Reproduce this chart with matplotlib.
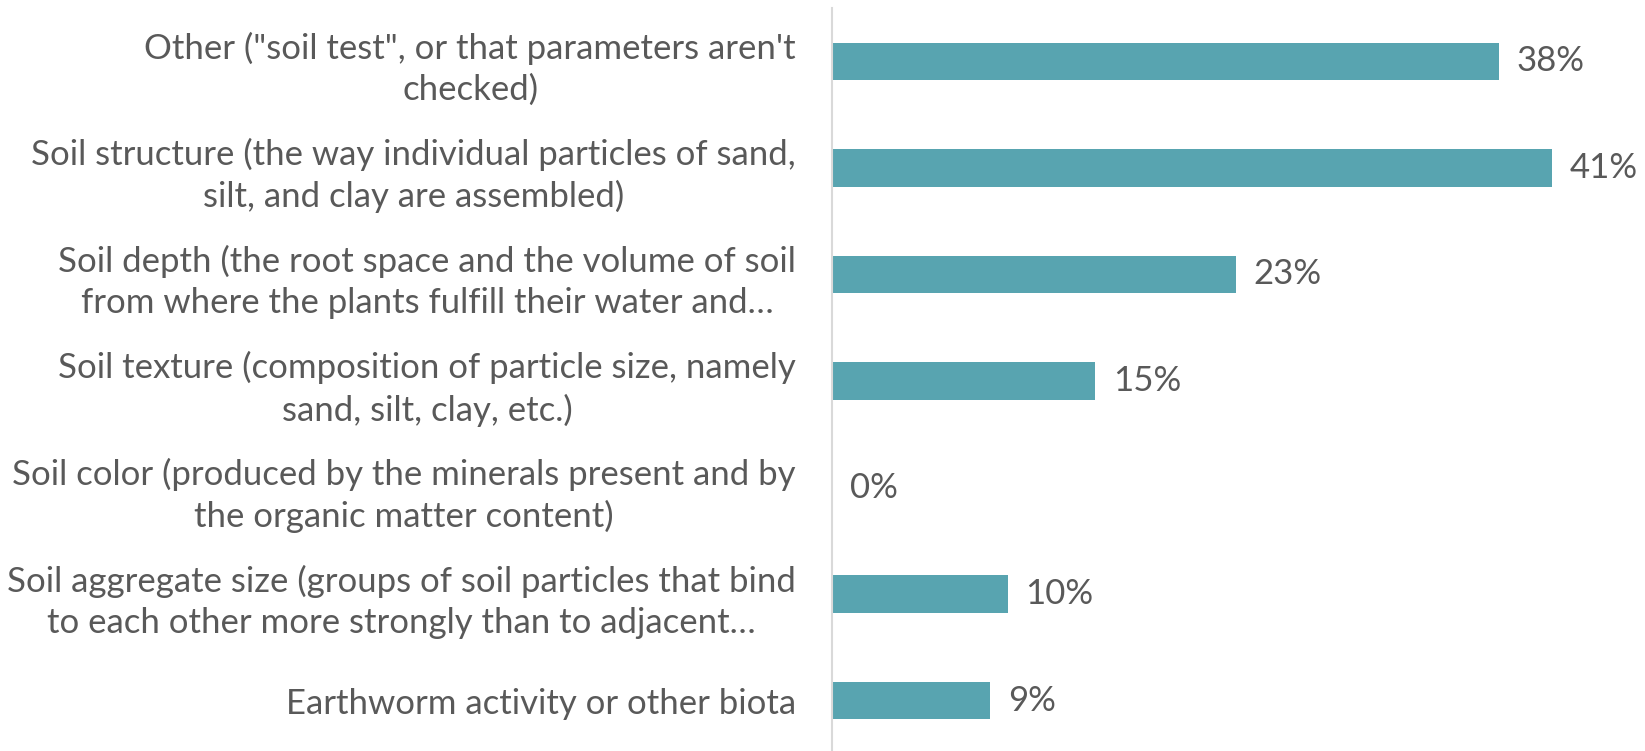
import matplotlib.pyplot as plt

# categories top to bottom, as in the picture
labels = [
    'Other ("soil test", or that parameters aren\'t\nchecked)',
    'Soil structure (the way individual particles of sand,\nsilt, and clay are assembled)',
    'Soil depth (the root space and the volume of soil\nfrom where the plants fulfill their water and\u2026',
    'Soil texture (composition of particle size, namely\nsand, silt, clay, etc.)',
    'Soil color (produced by the minerals present and by\nthe organic matter content)',
    'Soil aggregate size (groups of soil particles that bind\nto each other more strongly than to adjacent\u2026',
    'Earthworm activity or other biota',
]
values = [38, 41, 23, 15, 0, 10, 9]

bar_color = '#58A4B0'
text_color = '#595959'

plt.rcParams['font.family'] = ['Lato', 'DejaVu Sans']

W, H = 1645, 751
fig = plt.figure(figsize=(W / 100, H / 100), dpi=100)
# plot area in pixels: left 832, top 8, bottom 754
left, top, bottom = 832, 8, 754
ax = fig.add_axes([left / W, (H - bottom) / H, (W - left) / W, (bottom - top) / H])

n = len(values)
ypos = list(range(n))
ax.barh(ypos, values, height=0.35, color=bar_color)
ax.set_ylim(n - 0.5, -0.5)
ax.set_xlim(0, (W - left) / 17.55)

for y, v in zip(ypos, values):
    ax.annotate(f'{v}%', xy=(v, y), xytext=(13, 0), textcoords='offset points',
                va='center', ha='left', fontsize=25, color=text_color)

ax.set_yticks(ypos)
ax.set_yticklabels(labels, fontsize=25, color=text_color, multialignment='center',
                   linespacing=1.35)
ax.tick_params(axis='y', length=0, pad=26)
ax.set_xticks([])

for s in ['top', 'right', 'bottom']:
    ax.spines[s].set_visible(False)
ax.spines['left'].set_color('#D9D9D9')
ax.spines['left'].set_linewidth(1.5)

fig.savefig('out.png', dpi=100)
